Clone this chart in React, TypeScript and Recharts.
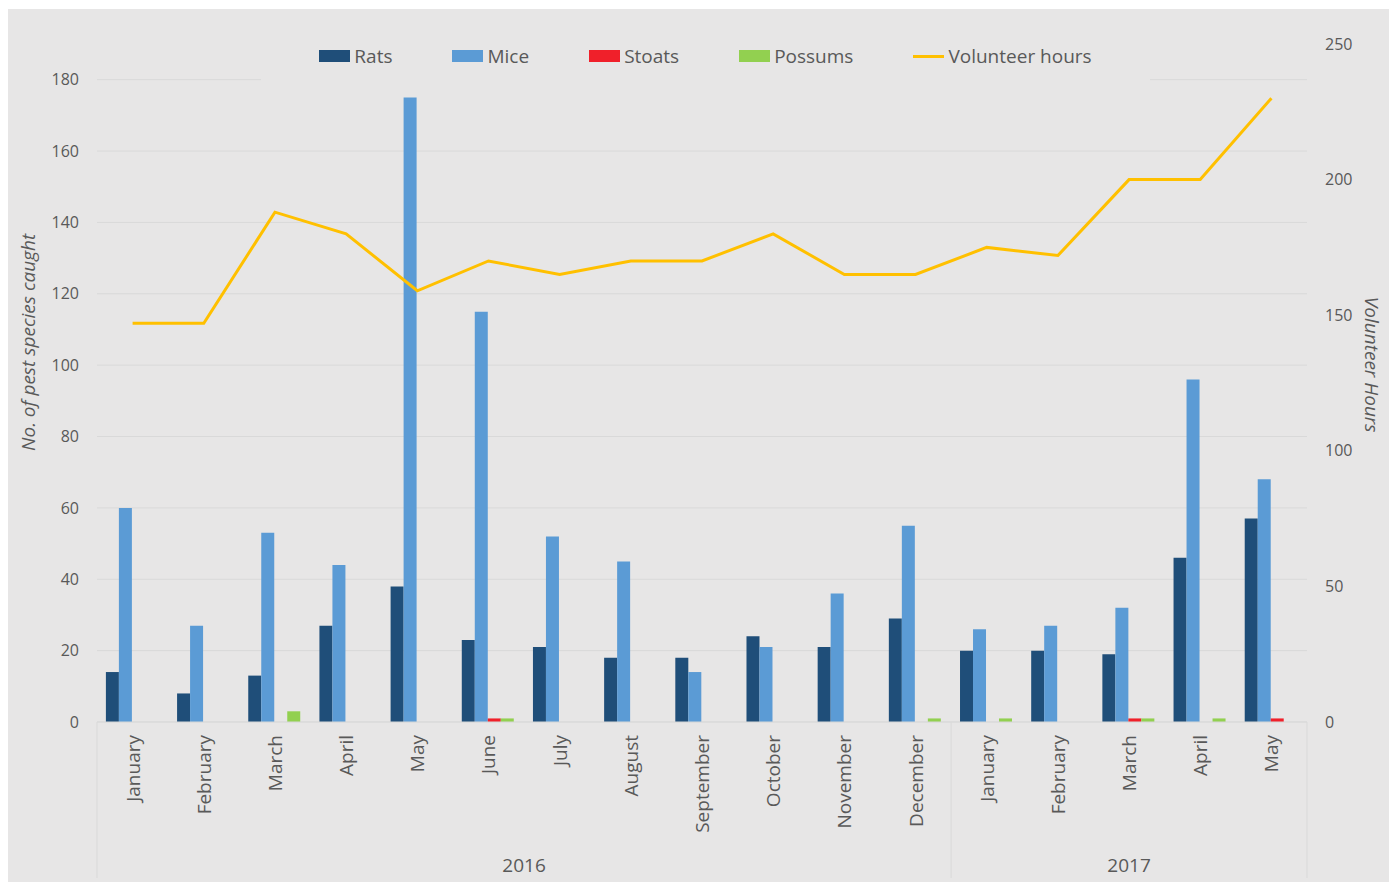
import React from 'react';
import { ComposedChart, Bar, Line, XAxis, YAxis, CartesianGrid, Legend } from 'recharts';

const months = [
  'January', 'February', 'March', 'April', 'May', 'June', 'July', 'August',
  'September', 'October', 'November', 'December',
  'January', 'February', 'March', 'April', 'May',
];
const years = [
  '2016', '2016', '2016', '2016', '2016', '2016', '2016', '2016', '2016', '2016', '2016', '2016',
  '2017', '2017', '2017', '2017', '2017',
];
const rats = [14, 8, 13, 27, 38, 23, 21, 18, 18, 24, 21, 29, 20, 20, 19, 46, 57];
const mice = [60, 27, 53, 44, 175, 115, 52, 45, 14, 21, 36, 55, 26, 27, 32, 96, 68];
const stoats = [0, 0, 0, 0, 0, 1, 0, 0, 0, 0, 0, 0, 0, 0, 1, 0, 1];
const possums = [0, 0, 3, 0, 0, 1, 0, 0, 0, 0, 0, 1, 1, 0, 1, 1, 0];
const volunteerHours = [147, 147, 188, 180, 159, 170, 165, 170, 170, 180, 165, 165, 175, 172, 200, 200, 230];

const leftTicks = [0, 20, 40, 60, 80, 100, 120, 140, 160, 180];
const rightTicks = [0, 50, 100, 150, 200, 250];
const legendOrder = ['Rats', 'Mice', 'Stoats', 'Possums', 'Volunteer hours'];

const data = months.map((month, i) => ({
  month,
  year: years[i],
  rats: rats[i],
  mice: mice[i],
  stoats: stoats[i],
  possums: possums[i],
  hours: volunteerHours[i],
}));

const BG = '#e7e6e6';
const GRID = '#d9d9d9';
const TEXT = '#595959';
const MONTH_H = 125;
const YEAR_H = 35;

function MonthTick(props: any) {
  const { x, y, payload } = props;
  return (
    <text
      transform={`translate(${x},${y + 13}) rotate(-90)`}
      textAnchor="end"
      dominantBaseline="central"
      fill={TEXT}
      fontSize={19}
    >
      {payload.value}
    </text>
  );
}

// second row of the category axis: year labels + group separators
function YearTick(props: any) {
  const { x, y, payload } = props;
  const i = payload.index ?? props.index;
  const half = payload.offset ?? 0;
  const year = years[i];
  const first = i === 0 || years[i - 1] !== year;
  const last = i === years.length - 1;
  if (!first && !last) return <g />;
  const count = years.filter((v) => v === year).length;
  return (
    <g>
      {first && (
        <>
          <line x1={x - half} x2={x - half} y1={y - MONTH_H} y2={y + YEAR_H - 4} stroke={GRID} />
          <text x={x + (count - 1) * half} y={y + 18} textAnchor="middle" dominantBaseline="central" fill={TEXT} fontSize={19}>
            {year}
          </text>
        </>
      )}
      {last && <line x1={x + half} x2={x + half} y1={y - MONTH_H} y2={y + YEAR_H - 4} stroke={GRID} />}
    </g>
  );
}

function PestLegend(props: any) {
  const items = [...(props.payload || [])].sort(
    (a: any, b: any) => legendOrder.indexOf(a.value) - legendOrder.indexOf(b.value)
  );
  return (
    <div
      style={{
        display: 'flex',
        justifyContent: 'center',
        alignItems: 'center',
        gap: 60,
        height: '100%',
        background: BG,
        fontSize: 19,
        color: TEXT,
      }}
    >
      {items.map((it: any) => (
        <div key={it.value} style={{ display: 'flex', alignItems: 'center' }}>
          <span
            style={{
              display: 'inline-block',
              width: 31,
              height: it.type === 'line' ? 3 : 12,
              background: it.color,
              marginRight: 4,
            }}
          />
          <span>{it.value}</span>
        </div>
      ))}
    </div>
  );
}

function LeftTitle(props: any) {
  const { x, y, height } = props.viewBox;
  const cx = x + 23;
  const cy = y + height * 0.44;
  return (
    <text x={cx} y={cy} transform={`rotate(-90,${cx},${cy})`} textAnchor="middle" dominantBaseline="central" fill={TEXT} fontSize={19} fontStyle="italic">
      No. of pest species caught
    </text>
  );
}

function RightTitle(props: any) {
  const { x, y, height } = props.viewBox;
  const cx = x + 65;
  const cy = y + height * 0.473;
  return (
    <text x={cx} y={cy} transform={`rotate(90,${cx},${cy})`} textAnchor="middle" dominantBaseline="central" fill={TEXT} fontSize={19} fontStyle="italic">
      Volunteer Hours
    </text>
  );
}

export default function App() {
  return (
    <div style={{ marginLeft: -3, marginTop: 1, width: 1392, height: 873, background: BG, fontFamily: '"Open Sans", sans-serif' }}>
      <ComposedChart
        width={1392}
        height={873}
        data={data}
        margin={{ top: 35, right: 0, bottom: 0, left: 0 }}
        barCategoryGap="12.5%"
        barGap={0}
      >
        <CartesianGrid yAxisId="left" vertical={false} horizontalValues={leftTicks} stroke={GRID} />
        <XAxis
          xAxisId="month"
          dataKey="month"
          height={MONTH_H}
          interval={0}
          tickLine={false}
          tickSize={0}
          tickMargin={0}
          axisLine={{ stroke: GRID }}
          tick={MonthTick}
        />
        <XAxis
          xAxisId="year"
          dataKey="month"
          height={YEAR_H}
          interval={0}
          tickLine={false}
          tickSize={0}
          tickMargin={0}
          axisLine={false}
          tick={YearTick}
        />
        <YAxis
          yAxisId="left"
          width={92}
          domain={[0, 190]}
          ticks={leftTicks}
          axisLine={false}
          tickLine={false}
          tickMargin={12}
          tick={{ fill: TEXT, fontSize: 16 }}
          label={<LeftTitle />}
        />
        <YAxis
          yAxisId="right"
          orientation="right"
          width={90}
          domain={[0, 250]}
          ticks={rightTicks}
          axisLine={false}
          tickLine={false}
          tickMargin={12}
          tick={{ fill: TEXT, fontSize: 16 }}
          label={<RightTitle />}
        />
        <Legend
          verticalAlign="middle"
          align="center"
          content={<PestLegend />}
          wrapperStyle={{ left: 256, top: 21, width: 889, height: 52 }}
        />
        <Bar xAxisId="month" yAxisId="left" dataKey="rats" name="Rats" fill="#1f4e79" isAnimationActive={false} />
        <Bar xAxisId="month" yAxisId="left" dataKey="mice" name="Mice" fill="#5b9bd5" isAnimationActive={false} />
        <Bar xAxisId="month" yAxisId="left" dataKey="stoats" name="Stoats" fill="#f0202a" isAnimationActive={false} />
        <Bar xAxisId="month" yAxisId="left" dataKey="possums" name="Possums" fill="#92d050" isAnimationActive={false} />
        <Line
          xAxisId="month"
          yAxisId="right"
          dataKey="hours"
          name="Volunteer hours"
          type="linear"
          stroke="#ffc000"
          strokeWidth={3}
          dot={false}
          isAnimationActive={false}
        />
      </ComposedChart>
    </div>
  );
}
